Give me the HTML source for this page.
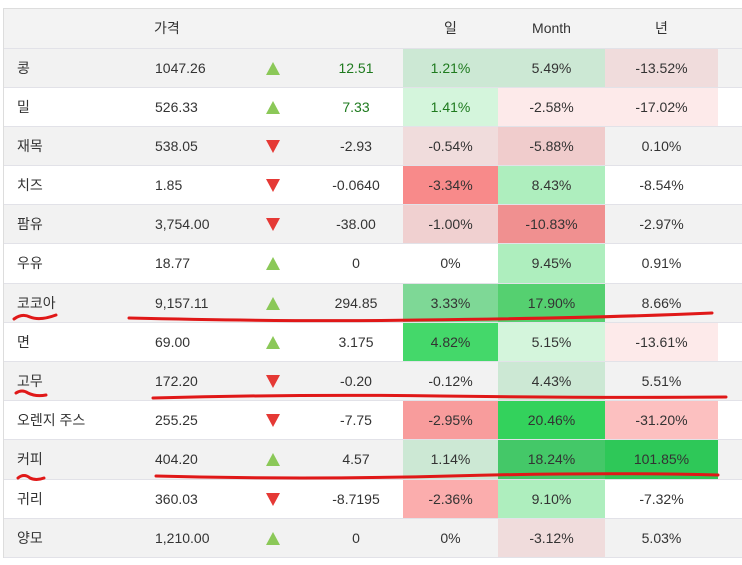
<!DOCTYPE html>
<html><head><meta charset="utf-8">
<style>
body{margin:0;width:742px;height:565px;background:#fff;font-family:"Liberation Sans","Noto Sans CJK KR",sans-serif;font-size:14px;color:#333;overflow:hidden;position:relative}
#tbl{position:absolute;left:3px;top:8px;width:739px;border-top:1px solid #ddd;border-left:1px solid #ddd}
.row{position:relative;height:39.2px;border-bottom:1px solid #e2e2e8;box-sizing:border-box}
.row.g{background:#f2f2f2}
.c{position:absolute;top:0;height:100%;line-height:38px;white-space:nowrap}
.hdr{height:39.5px;background:#f3f3f3}
.up{width:0;height:0;border-left:7px solid transparent;border-right:7px solid transparent;border-bottom:13px solid #8bc858;top:13px}
.dn{width:0;height:0;border-left:7px solid transparent;border-right:7px solid transparent;border-top:13px solid #e53935;top:13px}
</style></head><body>
<div id="tbl">
<div class="row hdr">
<div class="c" style="left:150px">가격</div>
<div class="c" style="left:399px;width:95px;text-align:center">일</div>
<div class="c" style="left:494px;width:107px;text-align:center">Month</div>
<div class="c" style="left:601px;width:113px;text-align:center">년</div>
</div>
</div>
<svg width="742" height="565" style="position:absolute;left:0;top:0">
<g fill="none" stroke="#e01818" stroke-width="3" stroke-linecap="round">
<path d="M14 319 Q22 313 30 317 Q40 321 56 315"/>
<path d="M129 318 Q300 322 420 320 Q600 318 712 313"/>
<path d="M16 393 Q22 389 28 393 Q36 397 46 395"/>
<path d="M153 398 Q300 394 440 396 Q600 398 726 397"/>
<path d="M18 478 Q24 473 30 478 Q36 481 44 478"/>
<path d="M156 476 Q300 480 450 476 Q600 472 718 475"/>
</g></svg>
<script>
const names=["콩","밀","재목","치즈","팜유","우유","코코아","면","고무","오렌지 주스","커피","귀리","양모"];
const prices=["1047.26","526.33","538.05","1.85","3,754.00","18.77","9,157.11","69.00","172.20","255.25","404.20","360.03","1,210.00"];
const changes=["12.51","7.33","-2.93","-0.0640","-38.00","0","294.85","3.175","-0.20","-7.75","4.57","-8.7195","0"];
const dirs=["up","up","dn","dn","dn","up","up","up","dn","dn","up","dn","up"];
const dayPct=["1.21%","1.41%","-0.54%","-3.34%","-1.00%","0%","3.33%","4.82%","-0.12%","-2.95%","1.14%","-2.36%","0%"];
const monthPct=["5.49%","-2.58%","-5.88%","8.43%","-10.83%","9.45%","17.90%","5.15%","4.43%","20.46%","18.24%","9.10%","-3.12%"];
const yearPct=["-13.52%","-17.02%","0.10%","-8.54%","-2.97%","0.91%","8.66%","-13.61%","5.51%","-31.20%","101.85%","-7.32%","5.03%"];
const dayBg=["#cce8d4","#d4f5dc","#f0dcdc","#f88a8a","#f0d0d0","","#7ed896","#44d86a","","#f89c9c","#cce8d4","#fbadad",""];
const monthBg=["#cce8d4","#fdeaea","#f0cccc","#aeeebe","#f09090","#aeeebe","#55d070","#d4f5dc","#cce8d4","#33d25c","#44c868","#aeeebe","#f0dcdc"];
const yearBg=["#f0dcdc","#fdeaea","","","","","","#fdeaea","","#fcc0c0","#2ec858","",""];
const tbl=document.getElementById('tbl');
function cell(row,left,width,text,align,bg,color,name){
  const d=document.createElement('div');
  d.className='c';
  d.style.left=left+'px';
  if(width){d.style.width=width+'px';}
  if(align){d.style.textAlign=align;}
  if(bg){d.style.background=bg;}
  if(color){d.style.color=color;}
  d.textContent=text;
  
  
  row.appendChild(d);
}
for(let i=0;i<names.length;i++){
  const r=document.createElement('div');
  r.className='row'+(i%2===0?' g':'');
  
  
  const green=i<2?'#1e7a1e':'';
  cell(r,13,0,names[i],'','','', 'commodity-name');
  cell(r,151,0,prices[i],'','','', 'price');
  const a=document.createElement('div');
  a.className='c '+dirs[i];
  a.style.left='262px';
  a.style.height='0';
  
  
  r.appendChild(a);
  cell(r,300,104,changes[i],'center','',green,'change');
  cell(r,399,95,dayPct[i],'center',dayBg[i],green,'day-pct');
  cell(r,494,107,monthPct[i],'center',monthBg[i],'','month-pct');
  cell(r,601,113,yearPct[i],'center',yearBg[i],'','year-pct');
  tbl.appendChild(r);
}
</script>
</body></html>
